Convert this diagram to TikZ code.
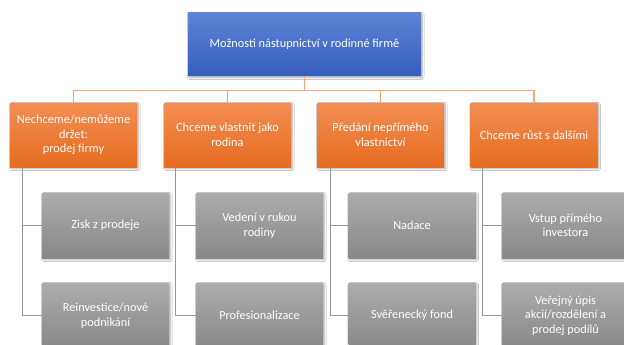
\documentclass[tikz,border=0pt]{standalone}
\usepackage{fontspec}
\setmainfont{Carlito}
\usetikzlibrary{
    positioning,
    calc,
    shadows.blur
}
\definecolor{bgWhite}{RGB}{255, 255, 255}
\definecolor{rootTop}{RGB}{94, 132, 214}
\definecolor{rootBottom}{RGB}{52, 94, 188}
\definecolor{optionTop}{RGB}{242, 142, 82}
\definecolor{optionBottom}{RGB}{230, 108, 32}
\definecolor{subTop}{RGB}{172, 172, 172}
\definecolor{subBottom}{RGB}{136, 136, 136}
\definecolor{trunkOrange}{RGB}{242, 168, 118}
\definecolor{branchGray}{RGB}{150, 150, 150}
\def\picW{624}
\def\picH{345}
\tikzset{
    box/.style={
        rectangle,
        text=white,
        align=center,
        inner sep=2pt,
        font=\fontsize{12.3}{14.5}\selectfont,
        blur shadow={shadow xshift=1.2pt, shadow yshift=-1.6pt, shadow blur steps=5, shadow opacity=35}
    },
    rootBox/.style={
        box,
        minimum width=233pt,
        minimum height=63pt,
        top color=rootTop,
        bottom color=rootBottom
    },
    optionBox/.style={
        box,
        minimum width=127pt,
        minimum height=64pt,
        top color=optionTop,
        bottom color=optionBottom
    },
    subBox/.style={
        box,
        minimum width=127pt,
        minimum height=65pt,
        top color=subTop,
        bottom color=subBottom
    },
    trunk/.style={
        draw=trunkOrange,
        line width=1.2pt
    },
    branch/.style={
        draw=branchGray,
        line width=1pt
    }
}

\begin{document}
\begin{tikzpicture}[x=1pt, y=-1pt]
    \useasboundingbox (0,0) rectangle (\picW, \picH);
    \fill[bgWhite] (0,0) rectangle (\picW, \picH);

    % Root
    \node[rootBox] (root) at (304.5, 44.5) {Možnosti nástupnictví v rodinné firmě};

    % Options
    \node[optionBox] (sell) at (73.5, 135) {Nechceme/nemůžeme\\ držet:\\ prodej firmy};
    \node[optionBox] (own) at (227.5, 135) {Chceme vlastnit jako\\ rodina};
    \node[optionBox] (indirect) at (380.5, 135) {Předání nepřímého\\ vlastnictví};
    \node[optionBox] (grow) at (534, 135) {Chceme růst s dalšími};

    % Sub options
    \node[subBox] (profit) at (105.5, 225.5) {Zisk z prodeje};
    \node[subBox] (reinvest) at (105.5, 315.5) {Reinvestice/nové\\ podnikání};
    \node[subBox] (lead) at (259.5, 225.5) {Vedení v rukou\\ rodiny};
    \node[subBox] (pro) at (259.5, 315.5) {Profesionalizace};
    \node[subBox] (found) at (412, 225.5) {Nadace};
    \node[subBox] (trust) at (412, 315.5) {Svěřenecký fond};
    \node[subBox] (investor) at (565.5, 225.5) {Vstup přímého\\ investora};
    \node[subBox] (ipo) at (565.5, 315.5) {Veřejný úpis\\ akcií/rozdělení a\\ prodej podílů};

    % Trunk lines
    \draw[trunk] (root.south) -- ++(0,14) -| (sell.north);
    \draw[trunk] (root.south) -- ++(0,14) -| (own.north);
    \draw[trunk] (root.south) -- ++(0,14) -| (indirect.north);
    \draw[trunk] (root.south) -- ++(0,14) -| (grow.north);

    % Branch lines
    \draw[branch] ([xshift=13pt]sell.south west) |- (profit.west);
    \draw[branch] ([xshift=13pt]sell.south west) |- (reinvest.west);
    \draw[branch] ([xshift=12pt]own.south west) |- (lead.west);
    \draw[branch] ([xshift=12pt]own.south west) |- (pro.west);
    \draw[branch] ([xshift=14pt]indirect.south west) |- (found.west);
    \draw[branch] ([xshift=14pt]indirect.south west) |- (trust.west);
    \draw[branch] ([xshift=12pt]grow.south west) |- (investor.west);
    \draw[branch] ([xshift=12pt]grow.south west) |- (ipo.west);
\end{tikzpicture}
\end{document}
